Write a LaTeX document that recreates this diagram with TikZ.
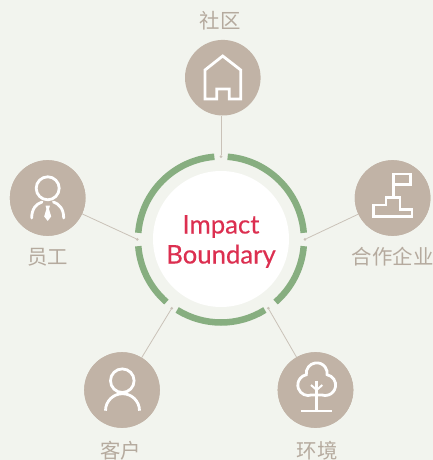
\documentclass[tikz,border=0pt]{standalone}
\usepackage{fontspec}
\setmainfont{Lato}
\newfontfamily\impactfont[FakeBold=0.3]{Lato}
\newfontfamily\cjk{Noto Sans CJK SC}
\usetikzlibrary{positioning}
\definecolor{paper}{HTML}{F2F4EE}
\definecolor{ringgreen}{HTML}{87AE80}
\definecolor{taupe}{HTML}{C1B3A6}
\definecolor{wire}{HTML}{CAC2B8}
\definecolor{caption}{HTML}{B5AA9E}
\definecolor{impact}{HTML}{DC2F50}

\begin{document}
\begin{tikzpicture}[x=1pt,y=-1pt,every node/.style={inner sep=0pt,outer sep=0pt},node distance=59pt,hub/.style={shape=circle,fill=taupe,minimum size=75.6pt},tag/.style={text=caption,font=\cjk\fontsize{20.4}{20.4}\selectfont},tip/.style={shape=circle,fill=wire,minimum size=3pt},wirepath/.style={draw=wire,line width=0.8pt},icon/.style={draw=white,line width=2.8pt,line join=miter}]
\useasboundingbox[fill=paper] (0,0) rectangle (433,460);
\node[shape=circle,fill=white,minimum size=136pt] (core) at (221,239) {};
\foreach \from/\to in {-85.4/-4.6,4.6/48.9,58.1/121.9,131.1/175.4,184.6/265.4}
  \draw[ringgreen,line width=6.5pt] (221,239.5) ++(\from:83) arc[start angle=\from,end angle=\to,radius=83];
\node[text=impact,align=center,font=\impactfont\fontsize{25.7}{30}\selectfont,yshift=-2.5pt] at (core) {Impact\\Boundary};

\node[hub] (community) at (222.8,77.7) {};
\node[hub] (staff) at (47.7,198) {};
\node[hub] (partner) at (392.6,198) {};
\node[hub] (client) at (122,390) {};
\node[hub] (nature) at (315.5,390) {};

\node[tag,above of=community,node distance=57pt,xshift=-2.5pt] (communitytag) {社区};
\node[tag,below of=staff] (stafftag) {员工};
\node[tag,below of=partner] (partnertag) {合作企业};
\node[tag,below of=client,node distance=60.5pt,xshift=-1.5pt] (clienttag) {客户};
\node[tag,below of=nature,node distance=60.5pt,xshift=1.5pt] (naturetag) {环境};

\node[tip] (tiptop) at (221,156.7) {};
\node[tip] (tipleft) at (137.3,239.3) {};
\node[tip] (tipright) at (305,239.3) {};
\node[tip] (tiplow) at (171.7,308.3) {};
\node[tip] (tipnear) at (268.3,308.3) {};
\draw[wirepath] (community.south -| tiptop) -- (tiptop);
\draw[wirepath] (staff) -- (tipleft);
\draw[wirepath] (partner) -- (tipright);
\draw[wirepath] (client) -- (tiplow);
\draw[wirepath] (nature) -- (tipnear);
\node[hub] at (staff) {};
\node[hub] at (partner) {};
\node[hub] at (client) {};
\node[hub] at (nature) {};

\draw[icon] (205,70) -- (222.7,56) -- (240.7,70) -- (240.7,99) -- (229.3,99) -- (229.3,89) -- (216.7,89) -- (216.7,99) -- (205,99) -- cycle;

\draw[icon] (47.7,188.3) circle (11.5);
\draw[icon,line cap=round] (31.7,218) .. controls (31.7,209) and (36,204) .. (42,202);
\draw[icon,line cap=round] (63.7,218) .. controls (63.7,209) and (59.4,204) .. (53.4,202);
\fill[white] (45.5,205.5) -- (50,205.5) -- (49,209) -- (51.2,216.5) -- (47.7,221) -- (44.2,216.5) -- (46.4,209) -- cycle;

\draw[icon] (393.3,197.7) -- (393.3,174) -- (410.7,174) -- (410.7,184.3) -- (393.3,184.3);
\draw[icon] (386,197.7) -- (400,197.7) -- (400,209.3) -- (412,209.3) -- (412,216.7) -- (373.3,216.7) -- (373.3,205) -- (386,205) -- cycle;

\draw[icon] (122.3,380.7) circle (11.8);
\draw[icon] (105.5,410.7) arc[start angle=180,end angle=360,radius=17];

\draw[icon] (311.9,394.9) arc[start angle=70,end angle=259,radius=10.5] arc[start angle=172.3,end angle=367.7,radius=10.5] arc[start angle=281,end angle=470,radius=10.5] -- cycle;
\draw[icon] (316.7,380.7) -- (316.7,411);
\draw[icon] (300.7,411) -- (332.3,411);
\draw[icon,line width=2pt] (311,385) -- (316.7,390) -- (322.3,385);
\end{tikzpicture}
\end{document}
